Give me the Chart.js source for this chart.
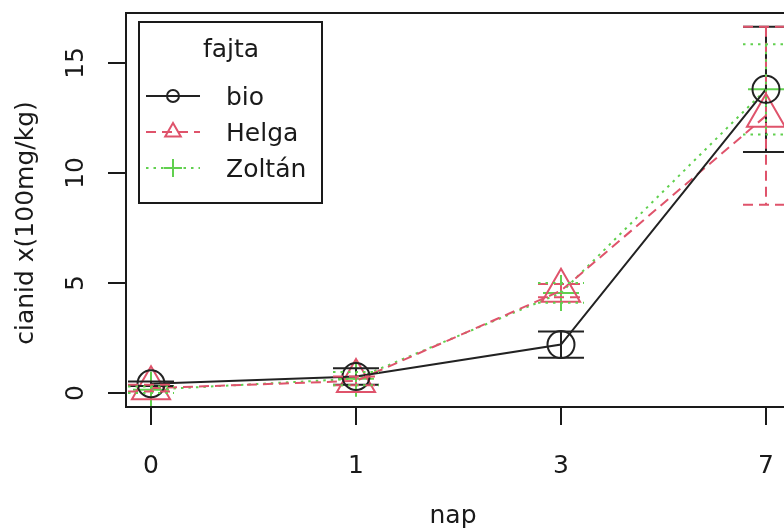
<!DOCTYPE html>
<html>
<head>
<meta charset="utf-8">
<script src="https://cdn.jsdelivr.net/npm/chart.js@4/dist/chart.umd.min.js"></script>
<style>
  html, body { margin: 0; padding: 0; background: #fff; overflow: hidden; }
  #wrap { position: absolute; left: 0; top: 0; width: 800px; height: 532px; }
</style>
</head>
<body>
<div id="wrap"><canvas id="chart"></canvas></div>
<script>
// x categories (nap) and y ticks
const days = ["0", "1", "3", "7"];
const yTicks = [0, 5, 10, 15];

// fajta groups, means and error half-widths
const groups = ["bio", "Helga", "Zoltán"];
const bioMean = [0.42, 0.75, 2.2, 13.8];
const bioErr = [0.1, 0.37, 0.6, 2.85];
const helgaMean = [0.22, 0.55, 4.65, 12.6];
const helgaErr = [0.15, 0.2, 0.3, 4.05];
const zoltanMean = [0.15, 0.65, 4.55, 13.8];
const zoltanErr = [0.15, 0.3, 0.45, 2.05];

const FONT = "25px 'DejaVu Sans'";
const INK = "#1a1a1a";

function toPoints(vals) {
  return vals.map((v, i) => ({ x: i, y: v }));
}

function drawMarker(ctx, style, x, y, r) {
  ctx.beginPath();
  if (style === "circle") {
    ctx.arc(x, y, r, 0, Math.PI * 2);
  } else if (style === "triangle") {
    let a = 0;
    ctx.moveTo(x + Math.sin(a) * r, y - Math.cos(a) * r);
    for (let k = 1; k < 3; k++) {
      a += Math.PI * 2 / 3;
      ctx.lineTo(x + Math.sin(a) * r, y - Math.cos(a) * r);
    }
    ctx.closePath();
  } else {
    ctx.moveTo(x - r, y); ctx.lineTo(x + r, y);
    ctx.moveTo(x, y - r); ctx.lineTo(x, y + r);
  }
  ctx.stroke();
}

const rPlot = {
  id: "rPlot",
  afterDatasetsDraw(chart) {
    const { ctx, chartArea: a } = chart;
    const x = chart.scales.x, y = chart.scales.y;

    // error bars
    chart.data.datasets.forEach(ds => {
      ctx.save();
      ctx.strokeStyle = ds.borderColor;
      ctx.lineWidth = ds.borderWidth;
      ctx.setLineDash(ds.borderDash || []);
      ds.data.forEach((p, i) => {
        const px = x.getPixelForValue(p.x);
        const top = y.getPixelForValue(p.y + ds.err[i]);
        const bot = y.getPixelForValue(p.y - ds.err[i]);
        ctx.beginPath();
        ctx.moveTo(px, top); ctx.lineTo(px, bot);
        ctx.moveTo(px - 23, top); ctx.lineTo(px + 23, top);
        ctx.moveTo(px - 23, bot); ctx.lineTo(px + 23, bot);
        ctx.stroke();
      });
      ctx.restore();
    });

    ctx.save();
    // plot box
    ctx.strokeStyle = INK;
    ctx.lineWidth = 2;
    ctx.strokeRect(a.left, a.top, a.right - a.left, a.bottom - a.top);

    // tick labels
    ctx.fillStyle = INK;
    ctx.font = FONT;
    ctx.textAlign = "center";
    ctx.textBaseline = "alphabetic";
    x.ticks.forEach(t => {
      ctx.fillText(days[t.value], x.getPixelForValue(t.value), 473);
    });
    y.ticks.forEach(t => {
      ctx.save();
      ctx.translate(83, y.getPixelForValue(t.value));
      ctx.rotate(-Math.PI / 2);
      ctx.fillText(String(t.value), 0, 0);
      ctx.restore();
    });

    // axis titles
    ctx.fillText("nap", 453, 523);
    ctx.save();
    ctx.translate(33, 223);
    ctx.rotate(-Math.PI / 2);
    ctx.fillText("cianid x(100mg/kg)", 0, 0);
    ctx.restore();

    // legend
    ctx.lineWidth = 2;
    ctx.strokeRect(139, 22, 183, 181);
    ctx.fillText("fajta", 231, 57);
    ctx.textAlign = "left";
    const legendR = { circle: 6, triangle: 9, cross: 9 };
    chart.data.datasets.forEach((ds, i) => {
      const ry = 96 + i * 36;
      ctx.save();
      ctx.strokeStyle = ds.borderColor;
      ctx.lineWidth = ds.borderWidth;
      ctx.setLineDash(ds.borderDash || []);
      ctx.beginPath();
      ctx.moveTo(146, ry); ctx.lineTo(200, ry);
      ctx.stroke();
      ctx.setLineDash([]);
      drawMarker(ctx, ds.pointStyle, 173, ry, legendR[ds.pointStyle]);
      ctx.restore();
      ctx.fillText(ds.label, 226, ry + 9);
    });
    ctx.restore();
  }
};

const axisGrid = { drawOnChartArea: false, drawTicks: true, tickLength: 18, color: INK, lineWidth: 2 };

new Chart(document.getElementById("chart"), {
  type: "line",
  data: {
    datasets: [
      {
        label: groups[0], data: toPoints(bioMean), err: bioErr,
        borderColor: "#222", borderWidth: 2, borderDash: [],
        pointStyle: "circle", pointRadius: 13.5, pointBorderWidth: 2,
        pointBackgroundColor: "transparent", pointBorderColor: "#222"
      },
      {
        label: groups[1], data: toPoints(helgaMean), err: helgaErr,
        borderColor: "#DF536B", borderWidth: 2, borderDash: [10, 6],
        pointStyle: "triangle", pointRadius: 22, pointBorderWidth: 2,
        pointBackgroundColor: "transparent", pointBorderColor: "#DF536B"
      },
      {
        label: groups[2], data: toPoints(zoltanMean), err: zoltanErr,
        borderColor: "#61D04F", borderWidth: 2, borderDash: [2.5, 5],
        pointStyle: "cross", pointRadius: 18, pointBorderWidth: 2,
        pointBackgroundColor: "transparent", pointBorderColor: "#61D04F"
      }
    ]
  },
  options: {
    responsive: true,
    maintainAspectRatio: false,
    animation: false,
    devicePixelRatio: 1,
    layout: { autoPadding: false, padding: { left: 0, top: 13, right: 9, bottom: 0 } },
    plugins: { legend: { display: false }, tooltip: { enabled: false } },
    elements: { line: { tension: 0 } },
    scales: {
      x: {
        type: "linear", min: -0.122, max: 3.122,
        afterBuildTicks: s => { s.ticks = days.map((d, i) => ({ value: i })); },
        afterFit: s => { s.height = 125; },
        ticks: { display: false },
        grid: axisGrid,
        border: { display: false }
      },
      y: {
        type: "linear", min: -0.636, max: 17.27,
        afterBuildTicks: s => { s.ticks = yTicks.map(v => ({ value: v })); },
        afterFit: s => { s.width = 126; },
        ticks: { display: false },
        grid: axisGrid,
        border: { display: false }
      }
    }
  },
  plugins: [rPlot]
});
</script>
</body>
</html>
